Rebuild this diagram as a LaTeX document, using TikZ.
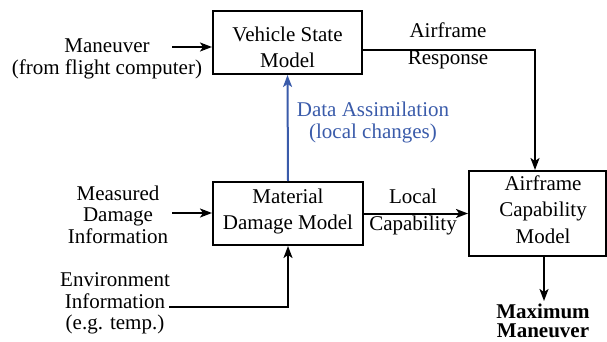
\documentclass[tikz,border=0pt]{standalone}
\usepackage{fontspec}
\setmainfont{Liberation Serif}
\usetikzlibrary{arrows.meta}
\definecolor{assimblue}{RGB}{58,91,170}
\tikzset{
  blk/.style={draw, line width=2pt, inner sep=0pt},
  lbl/.style={align=center, inner sep=0pt, font=\fontsize{21}{21.5}\selectfont},
  boxtxt/.style={align=center, inner sep=0pt, font=\fontsize{21}{26.5}\selectfont},
  conn/.style={line width=2pt, -{Stealth[length=12pt,width=9pt,inset=3pt]}},
  plain/.style={line width=2pt}
}
\begin{document}
\begin{tikzpicture}[x=1pt,y=-1pt]
\useasboundingbox (0,0) rectangle (607,342);
% boxes
\node[blk, minimum width=149pt, minimum height=63pt] (veh) at (287.5,42.5) {};
\node[boxtxt] (veht) at (287.5,47.5) {Vehicle State\\Model};
\node[blk, minimum width=150pt, minimum height=63pt] (mat) at (288,213.5) {};
\node[boxtxt] (matt) at (288,211.5) {Material\\Damage Model};
\node[blk, minimum width=137pt, minimum height=85pt] (afc) at (537.5,213.5) {};
\node[boxtxt] (afct) at (543,209.5) {Airframe\\Capability\\Model};
% labels
\node[lbl] (man) at (107,59) {Maneuver\\(from flight computer)};
\node[boxtxt] (resp) at (448,46) {Airframe\\Response};
\node[lbl, text=assimblue] (da) at (373,122.5) {Data Assimilation\\(local changes)};
\node[lbl] (meas) at (118,214.5) {Measured\\Damage\\Information};
\node[boxtxt] (loc) at (413,212) {Local\\Capability};
\node[lbl] (env) at (115,303.5) {Environment\\Information\\(e.g. temp.)};
\node[align=center, inner sep=0pt, font=\fontsize{21}{19}\selectfont\bfseries] (max) at (543,321) {Maximum\\Maneuver};
% coordinates
\coordinate (manend) at (172,47);
\coordinate (measend) at (172,213);
\coordinate (envend) at (169,307);
\coordinate (envcorner) at (288,307);
\coordinate (respcorner) at (535,50);
\coordinate (maxtip) at (544,301);
% connectors
\draw[conn] (manend) -- (manend -| veh.west);
\draw[conn] (measend) -- (measend -| mat.west);
\draw[conn] (mat.east) -- (afc.west);
\draw[conn] (envend) -- (envcorner) -- (mat.south);
\draw[conn, assimblue] (mat.north) -- (veh.south);
\draw[conn] (respcorner -| veh.east) -- (respcorner) -- (respcorner |- afc.north);
\draw[conn] (maxtip |- afc.south) -- (maxtip);
\end{tikzpicture}
\end{document}
